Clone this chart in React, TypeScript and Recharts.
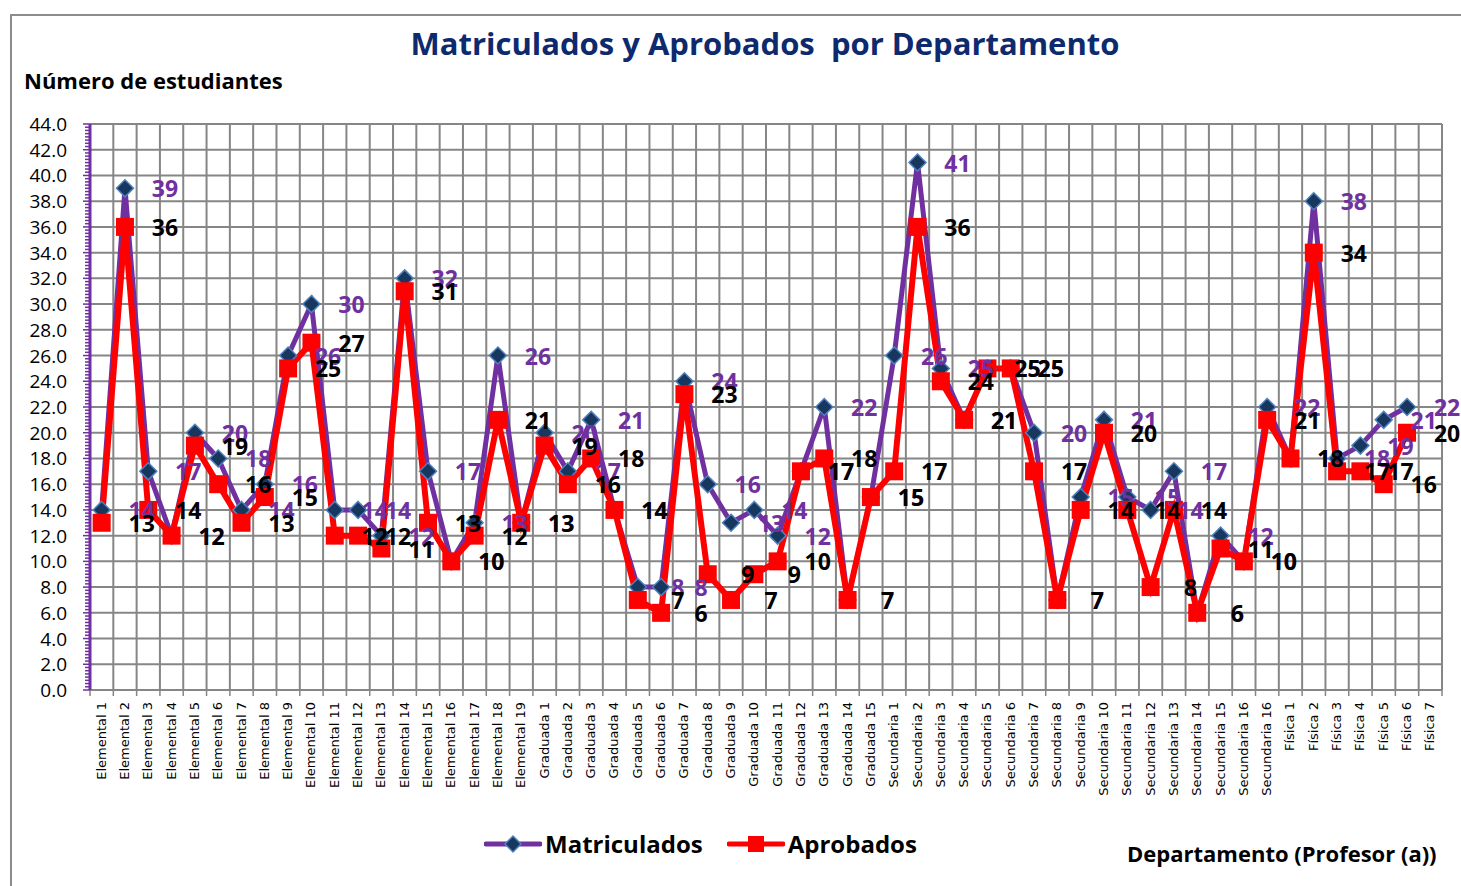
import { LineChart, Line, XAxis, YAxis, CartesianGrid, LabelList } from 'recharts';

const categories = [
  'Elemental 1', 'Elemental 2', 'Elemental 3', 'Elemental 4', 'Elemental 5', 'Elemental 6', 'Elemental 7',
  'Elemental 8', 'Elemental 9', 'Elemental 10', 'Elemental 11', 'Elemental 12', 'Elemental 13', 'Elemental 14',
  'Elemental 15', 'Elemental 16', 'Elemental 17', 'Elemental 18', 'Elemental 19',
  'Graduada 1', 'Graduada 2', 'Graduada 3', 'Graduada 4', 'Graduada 5', 'Graduada 6', 'Graduada 7',
  'Graduada 8', 'Graduada 9', 'Graduada 10', 'Graduada 11', 'Graduada 12', 'Graduada 13', 'Graduada 14', 'Graduada 15',
  'Secundaria 1', 'Secundaria 2', 'Secundaria 3', 'Secundaria 4', 'Secundaria 5', 'Secundaria 6', 'Secundaria 7',
  'Secundaria 8', 'Secundaria 9', 'Secundaria 10', 'Secundaria 11', 'Secundaria 12', 'Secundaria 13',
  'Secundaria 14', 'Secundaria 15', 'Secundaria 16', 'Secundaria 16',
  'Física 1', 'Física 2', 'Física 3', 'Física 4', 'Física 5', 'Física 6', 'Física 7',
];

const matriculados: (number | null)[] = [
  14, 39, 17, 12, 20, 18, 14, 16, 26, 30, 14, 14, 12, 32, 17, 10, 13, 26, 13,
  20, 17, 21, 14, 8, 8, 24, 16, 13, 14, 12, 17, 22, 7, 15,
  26, 41, 25, 21, 25, 25, 20, 7, 15, 21, 15, 14, 17, 6, 12, 10, 22,
  18, 38, 18, 19, 21, 22, null,
];

const aprobados: (number | null)[] = [
  13, 36, 14, 12, 19, 16, 13, 15, 25, 27, 12, 12, 11, 31, 13, 10, 12, 21, 13,
  19, 16, 18, 14, 7, 6, 23, 9, 7, 9, 10, 17, 18, 7, 15,
  17, 36, 24, 21, 25, 25, 17, 7, 14, 20, 14, 8, 14, 6, 11, 10, 21,
  18, 34, 17, 17, 16, 20, null,
];

const Y_MAX = 44;
const majorTicks = [0, 2, 4, 6, 8, 10, 12, 14, 16, 18, 20, 22, 24, 26, 28, 30, 32, 34, 36, 38, 40, 42, 44];
// minor marks every 0.25 on the value axis
const yTicks = Array.from({ length: 177 }, (_, i) => i * 0.25);

const data = categories.map((name, i) => ({
  name,
  matriculados: matriculados[i],
  aprobados: aprobados[i],
}));

const PURPLE = '#7030A0';
const FONT = '"Open Sans", "DejaVu Sans", sans-serif';

const CHART_W = 1461;
const MARGIN = { top: 124, right: 19, bottom: 0, left: 30 };
const Y_AXIS_W = 60;
const PLOT_W = CHART_W - MARGIN.left - MARGIN.right - Y_AXIS_W;
const HALF_BAND = PLOT_W / categories.length / 2;

const Diamond = (props: any) => {
  const { cx, cy } = props;
  if (cx == null || cy == null || props.value == null) return null;
  const s = 8.5;
  return (
    <polygon
      points={`${cx},${cy - s} ${cx + s},${cy} ${cx},${cy + s} ${cx - s},${cy}`}
      fill="#17375E"
      stroke="#4F81BD"
      strokeWidth={1.5}
    />
  );
};

const Square = (props: any) => {
  const { cx, cy } = props;
  if (cx == null || cy == null || props.value == null) return null;
  return <rect x={cx - 9} y={cy - 9} width={18} height={18} fill="#FF0000" />;
};

const makeLabel = (color: string) => (props: any) => {
  const { x, y, value } = props;
  if (value == null) return null;
  return (
    <text x={x + 40} y={y} textAnchor="middle" dominantBaseline="central" fill={color}
      fontSize={23} fontWeight={700} fontFamily={FONT}>
      {value}
    </text>
  );
};

const XTick = (props: any) => {
  const { x, y, payload, index } = props;
  return (
    <g>
      <line x1={x - HALF_BAND} y1={y} x2={x - HALF_BAND} y2={y + 6} stroke="#868686" strokeWidth={1.5} />
      {index === categories.length - 1 && (
        <line x1={x + HALF_BAND} y1={y} x2={x + HALF_BAND} y2={y + 6} stroke="#868686" strokeWidth={1.5} />
      )}
      <text transform={`translate(${x + 4},${y + 12}) rotate(-90)`} textAnchor="end"
        fontSize={13} fontFamily='"DejaVu Sans", sans-serif' fill="#000">
        {payload.value}
      </text>
    </g>
  );
};

const YTick = (props: any) => {
  const { x, y, payload } = props;
  const v = payload.value;
  const major = Math.abs(v / 2 - Math.round(v / 2)) < 1e-6;
  return (
    <g>
      <line x1={x - (major ? 7 : 5)} y1={y} x2={x} y2={y} stroke={PURPLE} strokeWidth={1.5} />
      {major && (
        <text x={x - 23} y={y} textAnchor="end" dominantBaseline="central" fontSize={19}
          fontFamily={FONT} fill="#000">
          {v.toFixed(1)}
        </text>
      )}
    </g>
  );
};

export default function App() {
  return (
    <div style={{ position: 'absolute', left: 0, top: 0, width: 1461, height: 886, background: '#fff', overflow: 'hidden', fontFamily: FONT }}>
      <div style={{ position: 'absolute', left: 10, top: 14, width: 1470, height: 900, border: '2px solid #8c8c8c', boxSizing: 'border-box' }} />
      <div style={{ position: 'absolute', left: 0, width: 1530, top: 22, textAlign: 'center', fontSize: 31, fontWeight: 700, color: '#0E2A6E', whiteSpace: 'pre' }}>
        {'Matriculados y Aprobados  por Departamento'}
      </div>
      <div style={{ position: 'absolute', left: 24, top: 65, fontSize: 22, fontWeight: 700, color: '#000' }}>
        Número de estudiantes
      </div>
      <LineChart
        width={CHART_W}
        height={886}
        data={data}
        margin={MARGIN}
        style={{ position: 'absolute', left: 0, top: 0 }}
      >
        <CartesianGrid
          stroke="#868686"
          strokeWidth={2}
          horizontalCoordinatesGenerator={({ yAxis, offset }: any) =>
            majorTicks.map((v) =>
              yAxis && typeof yAxis.scale === 'function'
                ? yAxis.scale(v)
                : offset.top + offset.height * (1 - v / Y_MAX)
            )
          }
          verticalCoordinatesGenerator={({ offset }: any) =>
            Array.from({ length: categories.length + 1 }, (_, i) => offset.left + (i * offset.width) / categories.length)
          }
        />
        <XAxis dataKey="name" interval={0} height={196} padding={{ left: HALF_BAND, right: HALF_BAND }}
          axisLine={{ stroke: '#868686', strokeWidth: 2 }} tickLine={false}
          tickSize={0} tickMargin={0} tick={<XTick />} />
        <YAxis domain={[0, Y_MAX]} ticks={yTicks} interval={0} width={Y_AXIS_W}
          tick={<YTick />} tickSize={0} tickMargin={0} tickLine={false}
          axisLine={{ stroke: PURPLE, strokeWidth: 3 }} />
        <Line type="linear" dataKey="matriculados" stroke={PURPLE} strokeWidth={5}
          dot={<Diamond />} activeDot={false} isAnimationActive={false} connectNulls={false}>
          <LabelList dataKey="matriculados" content={makeLabel(PURPLE)} />
        </Line>
        <Line type="linear" dataKey="aprobados" stroke="#FF0000" strokeWidth={6}
          dot={<Square />} activeDot={false} isAnimationActive={false} connectNulls={false}>
          <LabelList dataKey="aprobados" content={makeLabel('#000')} />
        </Line>
      </LineChart>
      <div style={{ position: 'absolute', left: 484, top: 827, display: 'flex', alignItems: 'center', fontSize: 24, fontWeight: 700, color: '#000' }}>
        <svg width={58} height={30}>
          <line x1={2} y1={15} x2={56} y2={15} stroke={PURPLE} strokeWidth={5} strokeLinecap="round" />
          <polygon points="29,7 37,15 29,23 21,15" fill="#17375E" stroke="#4F81BD" strokeWidth={1.5} />
        </svg>
        <span style={{ marginLeft: 3 }}>Matriculados</span>
        <svg width={58} height={30} style={{ marginLeft: 24 }}>
          <line x1={2} y1={15} x2={56} y2={15} stroke="#FF0000" strokeWidth={5} strokeLinecap="round" />
          <rect x={21} y={7} width={16} height={16} fill="#FF0000" />
        </svg>
        <span style={{ marginLeft: 3 }}>Aprobados</span>
      </div>
      <div style={{ position: 'absolute', left: 1127, top: 838, fontSize: 22, fontWeight: 700, color: '#000', whiteSpace: 'nowrap' }}>
        Departamento (Profesor (a))
      </div>
    </div>
  );
}
